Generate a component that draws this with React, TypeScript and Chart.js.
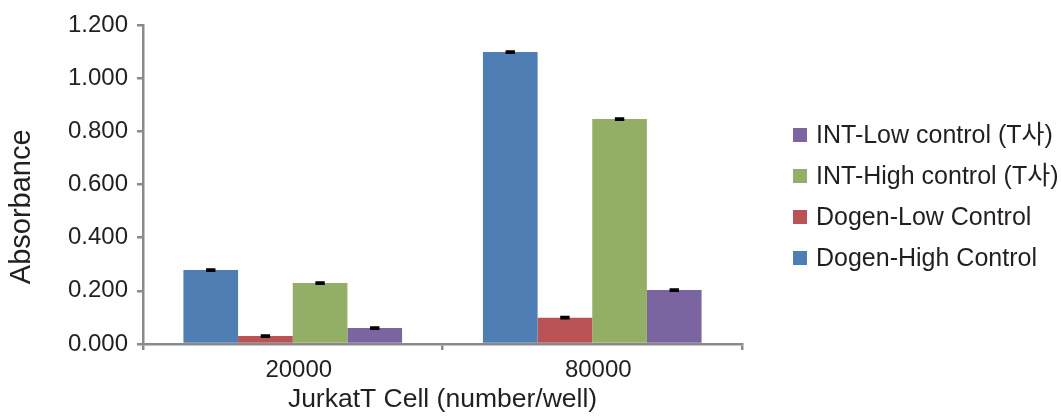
import React, { useEffect, useRef } from "react";
import { Chart, registerables } from "chart.js";

Chart.register(...registerables);

const categories = ["20000", "80000"];
const seriesNames = [
  "Dogen-High Control",
  "Dogen-Low Control",
  "INT-High control (T사)",
  "INT-Low control (T사)",
];
const dogenHigh = [0.278, 1.098];
const dogenLow = [0.03, 0.099];
const intHigh = [0.229, 0.846];
const intLow = [0.06, 0.203];
const dogenHighErr = [0.003, 0.003];
const dogenLowErr = [0.003, 0.003];
const intHighErr = [0.003, 0.003];
const intLowErr = [0.003, 0.003];
const seriesColors = ["#4E7EB4", "#B95355", "#93AF66", "#7B65A0"];
const yTitle = "Absorbance";
const xTitle = "JurkatT Cell (number/well)";

const FONT = "'Liberation Sans', 'Noto Sans CJK KR', sans-serif";
const TEXT = "#231F20";
const AXIS = "#8A8A8A";

const errorBarPlugin = {
  id: "errorBars",
  afterDatasetsDraw(chart: any) {
    const ctx = chart.ctx;
    const y = chart.scales.y;
    chart.data.datasets.forEach((ds: any, i: number) => {
      const meta = chart.getDatasetMeta(i);
      meta.data.forEach((el: any, j: number) => {
        const v = ds.data[j];
        const e = ds.errors[j];
        const top = y.getPixelForValue(v + e);
        const bot = y.getPixelForValue(v - e);
        ctx.save();
        ctx.strokeStyle = "#000";
        ctx.lineWidth = 2.2;
        ctx.beginPath();
        ctx.moveTo(el.x, top);
        ctx.lineTo(el.x, bot);
        ctx.moveTo(el.x - 4.7, top);
        ctx.lineTo(el.x + 4.7, top);
        ctx.moveTo(el.x - 4.7, bot);
        ctx.lineTo(el.x + 4.7, bot);
        ctx.stroke();
        ctx.restore();
      });
    });
  },
};

const customTextPlugin = {
  id: "customText",
  afterDraw(chart: any) {
    const ctx = chart.ctx;
    const area = chart.chartArea;
    ctx.save();
    // y title
    ctx.font = `29px ${FONT}`;
    ctx.fillStyle = TEXT;
    ctx.textAlign = "center";
    ctx.textBaseline = "middle";
    ctx.translate(22, area.top + (area.bottom - area.top) * 0.57);
    ctx.rotate(-Math.PI / 2);
    ctx.fillText(yTitle, 0, 0);
    ctx.restore();

    // legend (reversed order)
    ctx.save();
    ctx.font = `25px ${FONT}`;
    ctx.textAlign = "left";
    ctx.textBaseline = "middle";
    const n = chart.data.datasets.length;
    const boxX = area.right + 51;
    for (let k = 0; k < n; k++) {
      const ds = chart.data.datasets[n - 1 - k];
      const cy = 135 + k * 41;
      ctx.fillStyle = ds.backgroundColor;
      ctx.fillRect(boxX, cy - 7, 14, 14);
      ctx.fillStyle = TEXT;
      ctx.fillText(ds.label, boxX + 23, cy + 1);
    }
    ctx.restore();
  },
};

export default function App() {
  const ref = useRef<HTMLCanvasElement>(null);
  useEffect(() => {
    if (!ref.current) return;
    const values = [dogenHigh, dogenLow, intHigh, intLow];
    const errs = [dogenHighErr, dogenLowErr, intHighErr, intLowErr];
    const chart = new Chart(ref.current, {
      type: "bar",
      data: {
        labels: categories,
        datasets: values.map((d, i) => ({
          label: seriesNames[i],
          data: d,
          errors: errs[i],
          backgroundColor: seriesColors[i],
          borderWidth: 0,
          barPercentage: 1,
          categoryPercentage: 0.73,
        })) as any,
      },
      options: {
        animation: false,
        responsive: true,
        maintainAspectRatio: false,
        layout: { padding: { left: 0, right: 319, top: 25, bottom: 0 } },
        plugins: {
          legend: { display: false },
          tooltip: { enabled: false },
        },
        scales: {
          x: {
            afterFit: (s: any) => {
              s.height = 74;
            },
            grid: {
              offset: true,
              drawOnChartArea: false,
              drawTicks: true,
              tickLength: 6,
              color: AXIS,
              lineWidth: 2.5,
            },
            border: { display: true, color: AXIS, width: 2.5 },
            ticks: {
              color: TEXT,
              font: { family: FONT, size: 24 },
              padding: 6,
              labelOffset: 6,
            },
            title: {
              display: true,
              text: xTitle,
              color: TEXT,
              font: { family: FONT, size: 26.5 },
              padding: { top: 0, bottom: 2 },
            },
          },
          y: {
            min: 0,
            max: 1.2,
            afterFit: (s: any) => {
              s.width = 143;
            },
            grid: {
              drawOnChartArea: false,
              drawTicks: true,
              tickLength: 6,
              color: AXIS,
              lineWidth: 2.5,
            },
            border: { display: true, color: AXIS, width: 2.5 },
            ticks: {
              stepSize: 0.2,
              color: TEXT,
              font: { family: FONT, size: 24 },
              padding: 9,
              callback: (v: any) => Number(v).toFixed(3),
            },
          },
        },
      },
      plugins: [errorBarPlugin, customTextPlugin],
    });
    return () => chart.destroy();
  }, []);
  return (
    <div style={{ position: "absolute", left: 0, top: 0, width: 1061, height: 418, background: "#fff" }}>
      <canvas ref={ref} />
    </div>
  );
}
